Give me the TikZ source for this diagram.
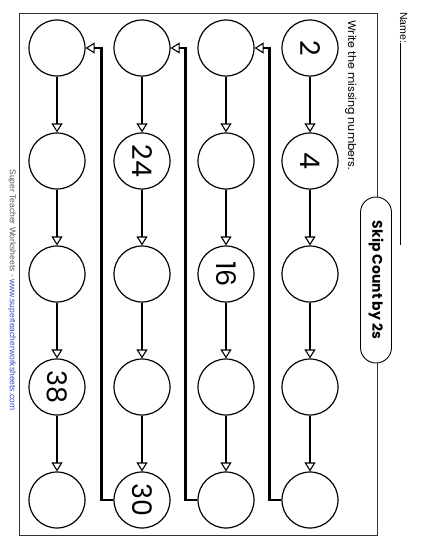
\documentclass[tikz,border=0pt]{standalone}
\usepackage{fontspec}
\setmainfont{Poppins}
\newfontfamily\plainfont{Liberation Sans}
\usetikzlibrary{arrows.meta}
\definecolor{linkblue}{RGB}{60,70,200}
\definecolor{footgray}{RGB}{90,90,90}
\tikzset{
  bubble/.style={circle, draw, line width=1.2pt, minimum size=56pt, inner sep=0pt},
  digit/.style={rotate=-90, font=\fontsize{27}{27}\selectfont},
  link/.style={line width=2.5pt, -{Triangle[open, length=9pt, width=11pt, line width=1.1pt]}},
  sidetext/.style={rotate=-90, inner sep=0pt},
  pill/.style={rotate=-90, draw, fill=white, line width=0.9pt, rounded corners=15.5pt,
    minimum width=166pt, minimum height=31pt, font=\bfseries\fontsize{14}{14}\selectfont}
}

\begin{document}
\begin{tikzpicture}[x=1pt, y=-1pt]
  \useasboundingbox (0,0) rectangle (425,550);
  \draw[line width=0.9pt, black!80] (19,13) rectangle (377,535);
  % bubbles, column by column
  \foreach \c/\x in {1/310, 2/226, 3/142, 4/57} {
    \foreach \r in {1,...,5}
      \node[bubble] (n\c-\r) at (\x, {48+113*(\r-1)}) {};
  }
  \foreach \id/\v in {1-1/2, 1-2/4, 2-3/16, 3-2/24, 3-5/30, 4-4/38}
    \node[digit] (v\id) at (n\id) {\v};
  % arrows down each column
  \foreach \c in {1,...,4} {
    \foreach \r/\s in {1/2, 2/3, 3/4, 4/5}
      \draw[link] (n\c-\r) -- (n\c-\s);
  }
  % back to the top of the next column
  \foreach \c/\d in {1/2, 2/3, 3/4}
    \draw[link] (n\c-5.west) -- ++(-12,0) |- (n\d-1.east);
  % title and texts
  \node[pill] (title) at (376,280) {Skip Count by 2s};
  \node[sidetext, anchor=base west, font=\fontsize{11}{11}\selectfont] (task) at (348,20) {Write the missing numbers.};
  \node[sidetext, anchor=base west, font=\plainfont\fontsize{10.5}{10.5}\selectfont] (name) at (400,12) {Name:};
  \draw[line width=0.7pt] (name.base east) -- ++(0,202);
  \node[sidetext, font=\plainfont\fontsize{8.5}{8.5}\selectfont, text=footgray] (credit) at (12,290)
    {Super Teacher Worksheets - \textcolor{linkblue}{www.superteacherworksheets.com}};
\end{tikzpicture}
\end{document}
